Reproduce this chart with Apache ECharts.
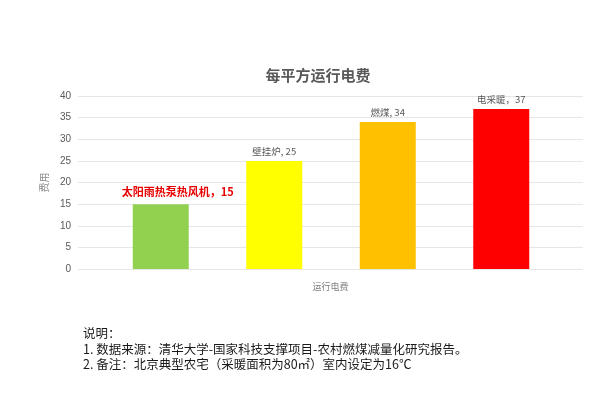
<!DOCTYPE html>
<html><head><meta charset="utf-8">
<script src="https://cdn.jsdelivr.net/npm/echarts@6/dist/echarts.min.js"></script>
<style>html,body{margin:0;padding:0;background:#fff}#c{width:600px;height:418px}</style>
</head><body><div id="c"></div>
<script>
const categories = ['太阳雨热泵热风机', '壁挂炉', '燃煤', '电采暖'];
const values = [15, 25, 34, 37];
const separators = ['，', ', ', ', ', '，'];
const barColors = ['#92D050', '#FFFF00', '#FFC000', '#FF0000'];
const yTicks = [0, 5, 10, 15, 20, 25, 30, 35, 40];
const titleText = '每平方运行电费';
const xName = '运行电费';
const yName = '费用';
const notes = ['说明：', '1. 数据来源：清华大学-国家科技支撑项目-农村燃煤减量化研究报告。', '2. 备注：北京典型农宅（采暖面积为80㎡）室内设定为16℃'];

const font = '"Noto Sans CJK SC", "Liberation Sans", sans-serif';
const chart = echarts.init(document.getElementById('c'));
const yMin = yTicks[0], yMax = yTicks[yTicks.length - 1], yStep = yTicks[1] - yTicks[0];

chart.setOption({
  backgroundColor: '#fff',
  animation: false,
  title: {
    text: titleText, left: 313, top: 63, textAlign: 'center',
    textStyle: { fontFamily: font, fontSize: 15, fontWeight: 'bold', color: '#595959' }
  },
  grid: [
    { left: 78, right: 17, top: 96, bottom: 149 },
    { left: 104, right: 42, top: 96, bottom: 149 }
  ],
  xAxis: [
    { type: 'category', gridIndex: 0, data: categories, axisLine: { show: false }, axisTick: { show: false },
      axisLabel: { show: false }, name: xName, nameLocation: 'middle', nameGap: 13,
      nameTextStyle: { fontFamily: font, fontSize: 9, color: '#7f7f7f' } },
    { type: 'category', gridIndex: 1, data: categories, axisLine: { show: false }, axisTick: { show: false },
      axisLabel: { show: false } }
  ],
  yAxis: [
    { type: 'value', gridIndex: 0, min: yMin, max: yMax, interval: yStep,
      axisLine: { show: false }, axisTick: { show: false },
      axisLabel: { margin: 7, fontFamily: '"Liberation Sans", sans-serif', fontSize: 10, color: '#595959' },
      splitLine: { lineStyle: { color: '#e6e6e6', width: 1 } },
      name: yName, nameLocation: 'middle', nameGap: 16, nameRotate: 90,
      nameTextStyle: { fontFamily: font, fontSize: 10, color: '#8c8c8c' } },
    { type: 'value', gridIndex: 1, min: yMin, max: yMax, interval: yStep, show: false, splitLine: { show: false } }
  ],
  series: [{
    type: 'bar', xAxisIndex: 1, yAxisIndex: 1, barWidth: 56,
    data: values.map((v, i) => ({
      value: v,
      itemStyle: { color: barColors[i] },
      label: i === 0 ? { color: '#E80000', fontWeight: 'bold', fontSize: 11, offset: [17, -2] } : {}
    })),
    label: {
      show: true, position: 'top', distance: 5,
      fontFamily: font, fontSize: 9.5, color: '#595959',
      formatter: p => p.name + separators[p.dataIndex] + p.value
    }
  }],
  graphic: notes.map((t, i) => ({
    type: 'text', left: 83, top: 327 + i * 15.5,
    style: { text: t, font: '12.5px ' + font, fill: '#1a1a1a' }
  }))
});
</script></body></html>
